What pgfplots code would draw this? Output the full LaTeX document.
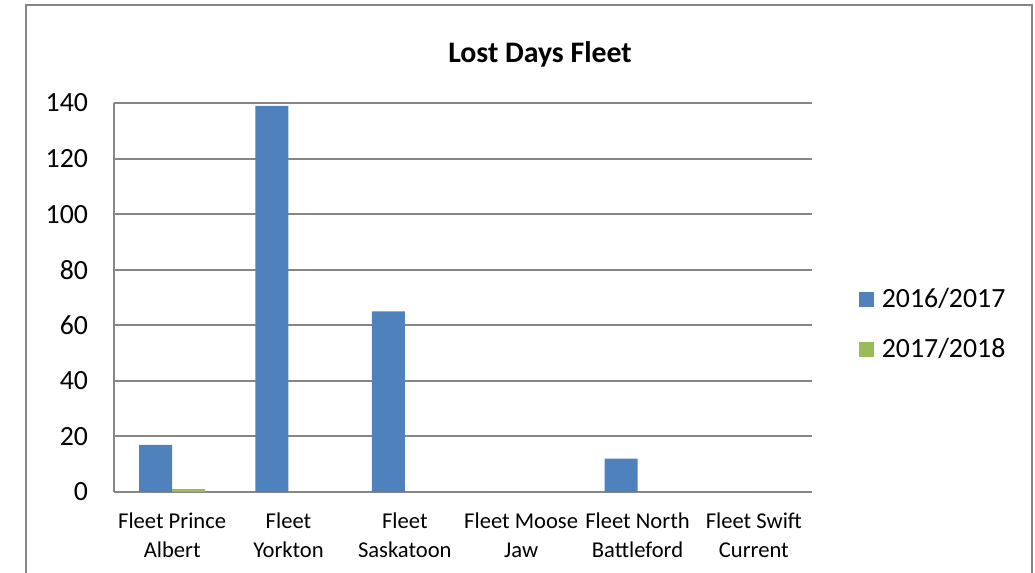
\documentclass[border=0pt]{standalone}
\usepackage{pgfplots}
\pgfplotsset{compat=1.18}
\usepackage{fontspec}
\setmainfont{Carlito}
\definecolor{barblue}{HTML}{4F81BD}
\definecolor{bargreen}{HTML}{9BBB59}
\definecolor{gridgray}{HTML}{868686}
\begin{document}
\begin{tikzpicture}
\useasboundingbox (-57pt,-40.5pt) rectangle (460.5pt,246pt);
\draw[gridgray, line width=0.9pt] (-44pt,-41pt) -- (-44pt,243.5pt) -- (459pt,243.5pt) -- (459pt,-41pt);
\begin{axis}[
  at={(0,0)}, anchor=south west,
  scale only axis,
  width=349pt, height=194.5pt,
  ybar=0pt, bar width=16.5pt,
  xmin=-0.5, xmax=5.5,
  ymin=0, ymax=140,
  ytick={0,20,...,140},
  xtick=data,
  xticklabels={{Fleet Prince\\Albert},{Fleet\\Yorkton},{Fleet\\Saskatoon},{Fleet Moose\\Jaw},{Fleet North\\Battleford},{Fleet Swift\\Current}},
  axis x line*=bottom, axis y line*=left,
  axis line style={gridgray, line width=1pt, -},
  major tick length=0pt,
  ymajorgrids, grid style={gridgray, line width=1pt},
  /pgf/number format/assume math mode=true,
  yticklabel style={font=\fontsize{13.9}{16}\selectfont, xshift=-9.5pt},
  xticklabel style={font=\fontsize{11.3}{14.5}\selectfont, align=center, yshift=-7pt},
  legend style={at={(1.058,0.431)}, anchor=west, draw=none, fill=none,
    font=\fontsize{13.9}{16}\selectfont, row sep=10pt,
    legend cell align=left, nodes={inner xsep=4pt}},
  legend image code/.code={\fill[#1] (0pt,-3.75pt) rectangle (7.5pt,3.75pt);},
  clip=false,
]
\addplot[fill=barblue, draw=none] coordinates {(0,17) (1,139) (2,65) (3,0) (4,12) (5,0)};
\addplot[fill=bargreen, draw=none] coordinates {(0,1) (1,0) (2,0) (3,0) (4,0) (5,0)};
\legend{2016/2017, 2017/2018}
\end{axis}
\node[font=\fontsize{14.9}{18}\selectfont\bfseries] at (213pt,219pt) {Lost Days Fleet};
\end{tikzpicture}
\end{document}
